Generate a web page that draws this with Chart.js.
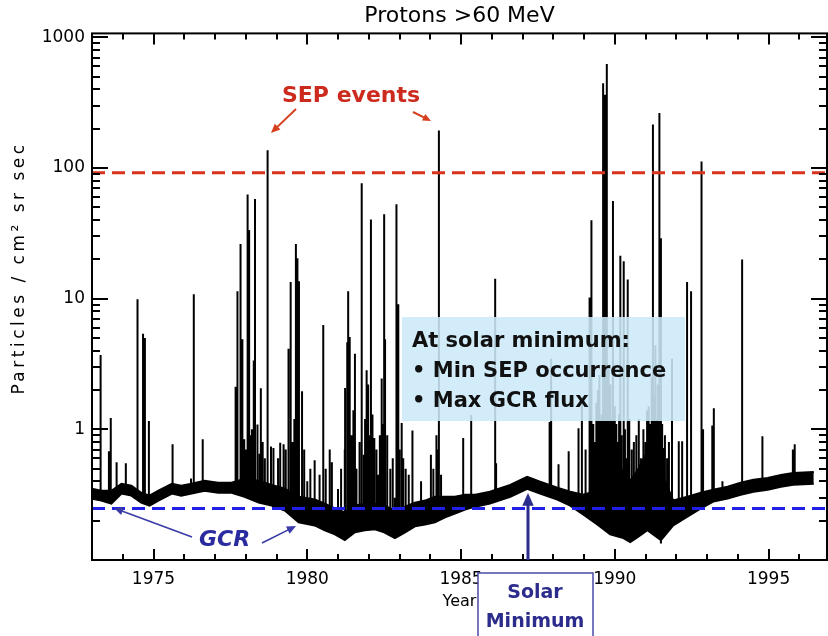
<!DOCTYPE html>
<html>
<head>
<meta charset="utf-8">
<script src="https://cdn.jsdelivr.net/npm/chart.js@4.4.1/dist/chart.umd.min.js"></script>
<style>
html,body{margin:0;padding:0;background:#fff}
#wrap{width:828px;height:636px}
</style>
</head>
<body>
<div id="wrap"><canvas id="graph" width="828" height="636"></canvas></div>
<script>
// GCR background band (upper / lower edge of the black band)
let gcrYears=[1973.0,1973.3,1973.63,1973.96,1974.28,1974.6,1974.87,1975.16,1975.6,1975.9,1976.24,1976.66,1977.1,1977.54,1977.96,1978.42,1978.84,1979.27,1979.72,1980.24,1980.57,1980.9,1981.22,1981.55,1981.87,1982.2,1982.5,1982.85,1983.18,1983.5,1983.83,1984.15,1984.48,1984.8,1985.13,1985.46,1985.94,1986.6,1987.15,1987.57,1988.13,1988.55,1988.97,1989.43,1989.85,1990.28,1990.5,1990.73,1991.06,1991.5,1991.9,1992.36,1992.8,1993.2,1993.67,1994.09,1994.51,1994.97,1995.4,1995.8,1996.47]
let gcrUpper=[0.351,0.339,0.339,0.383,0.370,0.327,0.311,0.339,0.383,0.370,0.383,0.404,0.390,0.390,0.418,0.404,0.376,0.351,0.305,0.290,0.270,0.248,0.231,0.261,0.270,0.270,0.261,0.239,0.256,0.275,0.285,0.305,0.305,0.305,0.316,0.316,0.333,0.376,0.433,0.397,0.357,0.333,0.316,0.339,0.572,0.481,0.404,0.481,0.681,0.481,0.285,0.305,0.327,0.345,0.364,0.390,0.411,0.425,0.448,0.464,0.472]
let gcrLower=[0.295,0.285,0.270,0.322,0.311,0.275,0.261,0.285,0.322,0.311,0.322,0.339,0.327,0.327,0.305,0.275,0.261,0.239,0.194,0.184,0.169,0.157,0.142,0.163,0.169,0.172,0.163,0.147,0.163,0.181,0.187,0.194,0.212,0.227,0.243,0.256,0.270,0.305,0.351,0.322,0.290,0.261,0.223,0.187,0.157,0.147,0.137,0.149,0.169,0.142,0.184,0.215,0.248,0.280,0.295,0.316,0.333,0.345,0.364,0.376,0.383]

// SEP spikes: [year, foot, peak]
let spikes=[
[1973.28,0.31,3.7],[1973.55,0.30,0.68],[1973.61,0.30,1.22],[1973.8,0.32,0.56],[1974.1,0.35,0.55],
[1974.48,0.31,9.9],[1974.66,0.30,5.4],[1974.72,0.30,5.0],[1974.85,0.29,1.16],[1975.62,0.35,0.77],
[1976.22,0.35,0.42],[1976.31,0.35,10.8],[1976.6,0.37,0.84],
[1977.67,0.35,2.12],[1977.73,0.35,11.4],[1977.83,0.35,26.2],[1977.89,0.35,4.9],[1977.95,0.35,0.84],
[1978.0,0.34,0.7],[1978.06,0.34,62.8],[1978.11,0.34,33.5],[1978.17,0.33,0.9],[1978.2,0.33,1.0],
[1978.26,0.33,3.37],[1978.3,0.33,58],[1978.38,0.33,1.09],[1978.45,0.32,0.65],[1978.49,0.32,2.06],
[1978.55,0.32,0.8],[1978.62,0.31,0.6],[1978.71,0.31,137],[1978.82,0.31,0.74],[1978.9,0.30,0.72],
[1979.05,0.29,0.6],[1979.12,0.29,0.79],[1979.23,0.29,0.77],[1979.3,0.28,0.7],[1979.39,0.27,4.13],
[1979.46,0.26,13.4],[1979.52,0.26,0.8],[1979.58,0.25,1.2],[1979.63,0.25,26.2],[1979.68,0.24,20.4],
[1979.73,0.24,13.6],[1979.83,0.24,1.96],[1979.9,0.24,0.7],[1980.0,0.23,0.4],[1980.1,0.23,0.5],
[1980.24,0.23,0.58],[1980.4,0.22,0.45],[1980.52,0.21,6.28],[1980.6,0.21,0.5],[1980.73,0.20,0.70],
[1980.8,0.20,0.56],[1981.0,0.19,0.35],[1981.1,0.19,0.5],[1981.22,0.15,0.70],[1981.23,0.18,2.07],
[1981.3,0.18,4.64],[1981.33,0.18,11.4],[1981.38,0.19,5.1],[1981.44,0.19,0.9],[1981.5,0.2,1.4],
[1981.55,0.20,3.79],[1981.6,0.20,0.5],[1981.7,0.2,0.8],[1981.77,0.21,76.6],[1981.84,0.21,0.64],
[1981.88,0.21,1.2],[1981.93,0.21,2.83],[1981.98,0.21,2.2],[1982.02,0.21,0.9],[1982.07,0.21,40.4],
[1982.12,0.21,1.3],[1982.18,0.21,0.86],[1982.25,0.2,0.7],[1982.3,0.20,0.45],[1982.36,0.2,0.9],
[1982.42,0.20,2.45],[1982.45,0.2,1.1],[1982.5,0.20,44.3],[1982.53,0.20,4.9],[1982.6,0.2,0.9],
[1982.7,0.19,0.5],[1982.78,0.19,0.6],[1982.85,0.155,0.3],[1982.9,0.19,52.7],[1982.96,0.19,9.05],
[1983.0,0.19,0.7],[1983.07,0.20,1.12],[1983.12,0.2,0.6],[1983.2,0.20,0.5],[1983.3,0.21,0.45],
[1983.42,0.22,0.98],[1983.7,0.22,0.4],[1984.02,0.23,0.64],[1984.1,0.23,0.5],[1984.2,0.24,0.9],
[1984.24,0.24,0.7],[1984.28,0.24,194],[1984.35,0.24,0.45],[1985.07,0.27,0.86],[1985.33,0.28,1.29],
[1986.11,0.31,14.2],[1986.14,0.31,0.55],[1987.88,0.34,1.14],[1987.93,0.34,3.47],[1988.17,0.32,0.54],
[1988.5,0.30,0.68],[1988.82,0.27,1.02],[1988.93,0.26,1.58],
[1989.05,0.25,0.7],[1989.18,0.24,10.2],[1989.24,0.24,39.9],[1989.3,0.22,1.1],[1989.35,0.23,0.8],
[1989.4,0.22,1.6],[1989.45,0.22,2.0],[1989.5,0.21,2.6],[1989.55,0.21,1.2],[1989.58,0.21,1.3],
[1989.62,0.21,446],[1989.65,0.21,5],[1989.68,0.20,364],[1989.71,0.2,1.8],[1989.74,0.20,624],
[1989.78,0.19,1.0],[1989.8,0.19,3],[1989.86,0.19,2.2],[1989.9,0.19,1.2],[1989.94,0.19,56],
[1989.98,0.18,0.9],[1990.0,0.18,1.5],[1990.05,0.18,1.1],[1990.1,0.17,0.8],[1990.14,0.17,1.3],
[1990.18,0.17,21.3],[1990.22,0.17,0.9],[1990.29,0.16,19.3],[1990.33,0.16,1.0],[1990.36,0.16,0.6],
[1990.42,0.16,14.0],[1990.47,0.16,1.2],[1990.55,0.16,0.7],[1990.62,0.16,0.8],[1990.7,0.17,0.9],
[1990.78,0.17,1.2],[1990.85,0.18,0.6],[1990.93,0.18,1.0],[1991.0,0.19,0.8],[1991.05,0.19,1.4],
[1991.1,0.19,1.5],[1991.14,0.19,1.1],[1991.2,0.19,2.5],[1991.24,0.19,215],[1991.28,0.19,1.8],
[1991.32,0.19,4.4],[1991.36,0.18,1.2],[1991.4,0.18,2.2],[1991.45,0.18,264],[1991.5,0.134,29],
[1991.54,0.17,1.1],[1991.58,0.19,0.72],[1991.63,0.19,0.9],[1991.7,0.2,0.6],[1991.76,0.2,0.8],
[1991.86,0.21,3.47],[1992.08,0.23,0.81],[1992.19,0.24,0.81],[1992.35,0.25,13.4],[1992.48,0.26,11.4],
[1992.82,0.28,112],[1992.87,0.28,1.0],[1993.17,0.31,1.07],[1993.22,0.31,1.45],[1993.5,0.32,0.4],
[1994.14,0.36,19.9],[1994.8,0.38,0.885],[1995.79,0.41,0.70],[1995.85,0.41,0.77]
]

let sepLevel=92
let gcrLevel=0.248
let xMin=1973,xMax=1996.9
let yMin=0.1,yMax=1072
let xLabels=[1975,1980,1985,1990,1995]
let yLabels=[1,10,100,1000]

let spikeData=[]
for(let s of spikes){
spikeData.push({x:s[0],y:s[1]},{x:s[0],y:s[2]},{x:s[0],y:null})
}
let upperData=gcrYears.map((yr,i)=>({x:yr,y:gcrUpper[i]}))
let lowerData=gcrYears.map((yr,i)=>({x:yr,y:gcrLower[i]}))

let font='"DejaVu Sans", sans-serif'

function arrow(ctx,x1,y1,x2,y2,color,w,head){
ctx.save()
ctx.strokeStyle=color
ctx.fillStyle=color
ctx.lineWidth=w
let a=Math.atan2(y2-y1,x2-x1)
ctx.beginPath()
ctx.moveTo(x1,y1)
ctx.lineTo(x2-head*0.7*Math.cos(a),y2-head*0.7*Math.sin(a))
ctx.stroke()
ctx.beginPath()
ctx.moveTo(x2,y2)
ctx.lineTo(x2-head*Math.cos(a-0.42),y2-head*Math.sin(a-0.42))
ctx.lineTo(x2-head*Math.cos(a+0.42),y2-head*Math.sin(a+0.42))
ctx.closePath()
ctx.fill()
ctx.restore()
}

let decor={
id:"decor",
afterDatasetsDraw(chart){
let ctx=chart.ctx
// info box
ctx.save()
ctx.fillStyle="rgba(204,233,248,0.88)"
ctx.fillRect(402,317,283,104)
ctx.fillStyle="#111"
ctx.font='bold 21px '+font
ctx.textBaseline="alphabetic"
ctx.fillText("At solar minimum:",412,347)
ctx.fillText("\u2022 Min SEP occurrence",412,377)
ctx.fillText("\u2022 Max GCR flux",412,407)
ctx.restore()
},
afterDraw(chart){
let ctx=chart.ctx
let a=chart.chartArea
let xs=chart.scales.x
let ys=chart.scales.y
ctx.save()
// frame
ctx.strokeStyle="#000"
ctx.lineWidth=2
ctx.strokeRect(a.left,a.top,a.right-a.left,a.bottom-a.top)
// y ticks, inward on both sides
for(let t of ys.ticks){
let p=Math.round(ys.getPixelForValue(t.value))
let len=yLabels.includes(t.value)?16:8
ctx.beginPath()
ctx.moveTo(a.left,p);ctx.lineTo(a.left+len,p)
ctx.moveTo(a.right,p);ctx.lineTo(a.right-len,p)
ctx.stroke()
}
// x ticks, inward on bottom and top
for(let t of xs.ticks){
let p=Math.round(xs.getPixelForValue(t.value))
let len=t.value%5==0?11:6
ctx.beginPath()
ctx.moveTo(p,a.bottom);ctx.lineTo(p,a.bottom-len)
ctx.moveTo(p,a.top);ctx.lineTo(p,a.top+len)
ctx.stroke()
}
// y axis title
ctx.save()
ctx.translate(20,268)
ctx.rotate(-Math.PI/2)
ctx.font='17px '+font
ctx.letterSpacing="3.5px"
ctx.fillStyle="#000"
ctx.textAlign="center"
ctx.textBaseline="middle"
ctx.fillText("Particles / cm\u00b2 sr sec",0,0)
ctx.restore()
// SEP events
ctx.fillStyle="#cc2a1c"
ctx.font='bold 22px '+font
ctx.textBaseline="middle"
ctx.fillText("SEP events",282,96)
arrow(ctx,296,109,271,133,"#d6401f",2,10)
arrow(ctx,413,112,431,121,"#d6401f",2,9)
// GCR
ctx.fillStyle="#2b2ba0"
ctx.font='italic bold 22px '+font
ctx.fillText("GCR",199,540)
arrow(ctx,192,537,114,508,"#3a3aa8",1.6,10)
arrow(ctx,262,543,296,526,"#3a3aa8",1.6,10)
// solar minimum arrow and box
arrow(ctx,528,560,528,493,"#2c2c8c",3,14)
ctx.fillStyle="#fff"
ctx.fillRect(478,573,115,70)
ctx.strokeStyle="#4a4aa8"
ctx.lineWidth=1.5
ctx.strokeRect(478,573,115,70)
ctx.fillStyle="#2c2c8c"
ctx.font='bold 19px '+font
ctx.textAlign="center"
ctx.fillText("Solar",535,593)
ctx.fillText("Minimum",535,622)
ctx.restore()
}
}

let ctx=document.getElementById("graph").getContext("2d")

let chart=new Chart(ctx,{
type:"line",
data:{
datasets:[
{label:"SEP level",data:[{x:xMin,y:sepLevel},{x:xMax,y:sepLevel}],borderColor:"#d8321e",borderWidth:3,borderDash:[13,7],pointRadius:0,order:0},
{label:"GCR level",data:[{x:xMin,y:gcrLevel},{x:xMax,y:gcrLevel}],borderColor:"#1f1fe6",borderWidth:3,borderDash:[13,7],pointRadius:0,order:0},
{label:"Spikes",data:spikeData,borderColor:"#000",borderWidth:2,pointRadius:0,spanGaps:false,order:1},
{label:"GCR upper",data:upperData,borderColor:"#000",borderWidth:2,backgroundColor:"#000",fill:"+1",pointRadius:0,order:2},
{label:"GCR lower",data:lowerData,borderColor:"#000",borderWidth:2,pointRadius:0,order:2}
]
},
options:{
responsive:false,
animation:false,
devicePixelRatio:1,
events:[],
layout:{padding:{left:0,right:1,top:0,bottom:0}},
plugins:{
legend:{display:false},
tooltip:{enabled:false},
title:{display:true,text:"Protons >60 MeV",color:"#000",fullSize:false,
font:{family:font,size:22,weight:"normal"},padding:{top:3,bottom:4}}
},
scales:{
x:{
type:"linear",min:xMin,max:xMax,
grid:{display:false,drawTicks:false},
border:{display:false},
afterBuildTicks(scale){
let t=[]
for(let yr=1973;yr<=1996;yr++)t.push({value:yr})
scale.ticks=t
},
afterFit(scale){scale.height=76},
ticks:{autoSkip:false,maxRotation:0,padding:9,color:"#000",font:{family:font,size:17},
callback:v=>xLabels.includes(v)?String(v):""},
title:{display:true,text:"Year",color:"#000",font:{family:font,size:16},padding:{top:0,bottom:25}}
},
y:{
type:"logarithmic",min:yMin,max:yMax,
grid:{display:false,drawTicks:false},
border:{display:false},
afterBuildTicks(scale){
let t=[]
for(let d of [0.1,1,10,100]){
for(let k=1;k<10;k++){
let v=Math.round(d*k*1000)/1000
if(v>=0.2)t.push({value:v})
}
}
t.push({value:1000})
scale.ticks=t
},
afterFit(scale){scale.width=92},
ticks:{autoSkip:false,padding:7,color:"#000",font:{family:font,size:17},
callback:v=>yLabels.includes(v)?String(v):""}
}
}
},
plugins:[decor]
})
</script>
</body>
</html>
